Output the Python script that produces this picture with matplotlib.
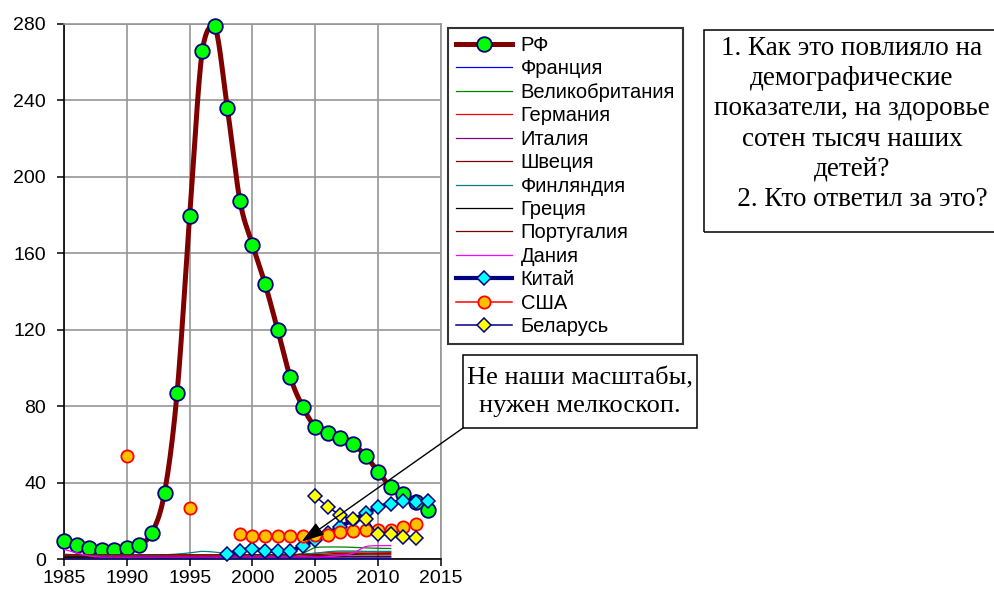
import numpy as np
import matplotlib
matplotlib.use("Agg")
import matplotlib.pyplot as plt
from matplotlib.lines import Line2D
from matplotlib.patches import Rectangle

# ---------------- data ----------------
years_rf = list(range(1985, 2015))
rf = [9.5, 7.5, 5.8, 4.8, 4.8, 6.0, 7.5, 13.8, 34.7, 87.0, 179.5, 266.0, 279.0, 236.0,
      187.5, 164.5, 144.0, 120.0, 95.3, 79.6, 69.2, 66.2, 63.4, 60.2, 54.0, 45.6, 37.8,
      33.8, 29.8, 25.6]

years_eu = list(range(1985, 2012))
france   = [0.6, 0.5, 0.5, 0.5, 0.5, 0.5, 0.5, 0.5, 0.5, 0.5, 0.5, 0.5, 0.5, 0.5, 0.5, 0.5,
            0.5, 0.5, 0.5, 0.5, 0.5, 0.4, 0.4, 0.4, 0.4, 0.4, 0.4]
uk       = [1.2, 1.2, 1.2, 1.2, 1.2, 1.2, 1.2, 1.2, 1.2, 1.2, 1.2, 1.2, 1.2, 1.2, 1.2, 1.2,
            1.2, 1.3, 1.5, 3.0, 6.0, 6.3, 6.3, 6.1, 5.8, 5.6, 5.5]
germany  = [2.0, 2.0, 2.0, 2.0, 2.0, 2.0, 2.0, 2.0, 2.0, 2.0, 2.0, 2.0, 2.0, 2.0, 2.0, 2.0,
            2.0, 2.0, 2.2, 2.6, 3.0, 3.4, 3.6, 3.6, 3.7, 3.6, 3.5]
italy    = [0.8, 0.8, 0.8, 0.8, 0.8, 0.8, 0.8, 0.8, 0.8, 0.8, 0.8, 0.8, 0.8, 0.8, 0.8, 0.8,
            0.8, 0.8, 0.8, 0.8, 0.8, 0.9, 1.0, 1.0, 1.0, 1.0, 1.0]
sweden   = [1.6, 1.6, 1.5, 1.5, 1.5, 1.5, 1.5, 1.5, 1.5, 1.5, 1.5, 1.5, 1.5, 1.5, 1.5, 1.5,
            1.5, 1.5, 1.5, 1.6, 1.8, 2.0, 2.2, 2.4, 2.5, 2.5, 2.5]
finland  = [2.5, 2.3, 2.0, 2.0, 2.0, 2.0, 2.0, 2.0, 2.2, 2.6, 3.2, 4.0, 3.6, 2.8, 2.2, 2.0,
            2.0, 2.0, 2.2, 2.6, 3.0, 3.8, 4.2, 4.2, 4.0, 4.0, 4.0]
greece   = [1.0, 1.0, 1.0, 1.0, 1.0, 1.0, 1.0, 1.0, 1.0, 1.0, 1.0, 1.0, 1.0, 1.0, 1.0, 1.0,
            1.0, 1.0, 1.0, 1.0, 1.2, 1.4, 1.5, 1.5, 1.5, 1.5, 1.5]
portugal = [2.2, 2.2, 2.2, 2.2, 2.2, 2.2, 2.2, 2.2, 2.2, 2.2, 2.2, 2.2, 2.2, 2.2, 2.2, 2.2,
            2.2, 2.2, 2.2, 2.2, 2.3, 2.6, 3.0, 3.0, 3.0, 3.0, 3.0]
denmark  = [5.0, 3.2, 1.6, 1.0, 1.0, 1.0, 1.0, 1.0, 1.0, 1.0, 1.0, 1.0, 1.0, 1.0, 1.0, 1.0,
            1.0, 1.0, 1.0, 1.0, 1.0, 1.2, 1.8, 3.0, 6.5, 7.0, 7.0]

years_china = list(range(1998, 2015))
china = [2.6, 4.2, 5.3, 4.2, 4.2, 4.2, 7.0, 10.0, 13.5, 17.0, 20.5, 24.0, 27.0, 29.0, 30.5,
         30.0, 30.5]

years_usa = list(range(1985, 2014))
usa = [np.nan, np.nan, np.nan, np.nan, np.nan, 53.9, np.nan, np.nan, np.nan, np.nan, 26.6,
       np.nan, np.nan, np.nan, 12.9, 11.8, 11.8, 11.8, 11.8, 11.8, 12.3, 12.8, 14.0, 14.8,
       15.2, 15.2, 15.2, 16.6, 18.5]

years_by = list(range(2005, 2014))
belarus = [32.8, 27.3, 23.1, 20.8, 20.8, 13.0, 13.0, 11.3, 11.0]

eu_names = ["Франция", "Великобритания", "Германия", "Италия", "Швеция", "Финляндия",
            "Греция", "Португалия", "Дания"]
eu_values = [france, uk, germany, italy, sweden, finland, greece, portugal, denmark]
eu_colors = ["#0000FF", "#008000", "#FF0000", "#800080", "#800000", "#008080",
             "#000000", "#800000", "#FF00FF"]

x_ticks = list(range(1985, 2016, 5))
y_ticks = list(range(0, 281, 40))

box1_text = ("1. Как это повлияло на\nдемографические\nпоказатели, на здоровье\n"
             "сотен тысяч наших\nдетей?\n   2. Кто ответил за это?")
box2_text = "Не наши масштабы,\nнужен мелкоскоп."


def smooth(x, y, n=16):
    """Excel-like smoothed line (Bezier through the points, no overshoot)."""
    x = np.asarray(x, float)
    y = np.asarray(y, float)
    if len(x) < 3:
        return x, y
    P = np.column_stack([x, y])
    P = np.vstack([P[0], P, P[-1]])
    out = []
    t = np.linspace(0, 1, n, endpoint=False)
    for i in range(1, len(P) - 2):
        p0, p1, p2, p3 = P[i - 1], P[i], P[i + 1], P[i + 2]
        c1 = p1 + (p2 - p0) / 6.0
        c2 = p2 - (p3 - p1) / 6.0
        lo, hi = min(p1[1], p2[1]), max(p1[1], p2[1])
        c1[1] = np.clip(c1[1], lo, hi)
        c2[1] = np.clip(c2[1], lo, hi)
        seg = ((1 - t) ** 3)[:, None] * p1 + (3 * (1 - t) ** 2 * t)[:, None] * c1 \
            + (3 * (1 - t) * t ** 2)[:, None] * c2 + (t ** 3)[:, None] * p2
        out.append(seg)
    out.append(P[-2][None, :])
    out = np.vstack(out)
    return out[:, 0], out[:, 1]


plt.rcParams['font.family'] = ['Liberation Sans', 'DejaVu Sans']

fig = plt.figure(figsize=(9.94, 5.95), dpi=100)
ax = fig.add_axes([64 / 994, 1 - 559 / 595, (441 - 64) / 994, (559 - 24) / 595])

# RF
sx, sy = smooth(years_rf, rf)
ax.plot(sx, sy, color="#800000", lw=3.6, zorder=3, solid_capstyle='round')
ax.plot(years_rf, rf, ls='none', marker='o', ms=10.5, mfc="#00FF00", mec="#000080",
        mew=1.3, zorder=3.1, clip_on=False)

# European countries
for i, (vals, col) in enumerate(zip(eu_values, eu_colors)):
    sx, sy = smooth(years_eu, vals)
    ax.plot(sx, sy, color=col, lw=0.9, zorder=4 + i * 0.01)

# China
sx, sy = smooth(years_china, china)
ax.plot(sx, sy, color="#000080", lw=3.0, zorder=5)
ax.plot(years_china, china, ls='none', marker='D', ms=7.5, mfc="#00FFFF", mec="#000080",
        mew=1.1, zorder=5.1, clip_on=False)

# USA
usa_arr = np.array(usa, float)
yrs_usa = np.array(years_usa, float)
mask = ~np.isnan(usa_arr)
start = None
runs = []
for i, m in enumerate(mask):
    if m and start is None:
        start = i
    if (not m or i == len(mask) - 1) and start is not None:
        end = i if not m else i + 1
        runs.append((start, end))
        start = None
for s, e in runs:
    if e - s > 1:
        sx, sy = smooth(yrs_usa[s:e], usa_arr[s:e])
        ax.plot(sx, sy, color="#FF0000", lw=1.1, zorder=6)
ax.plot(yrs_usa[mask], usa_arr[mask], ls='none', marker='o', ms=8.8, mfc="#FFC000",
        mec="#FF0000", mew=1.3, zorder=6.1)

# Belarus
sx, sy = smooth(years_by, belarus)
ax.plot(sx, sy, color="#000080", lw=1.1, zorder=7)
ax.plot(years_by, belarus, ls='none', marker='D', ms=7.5, mfc="#FFFF00", mec="#000080",
        mew=1.1, zorder=7.1)

ax.set_xlim(1985, 2015)
ax.set_ylim(0, 280)
ax.set_xticks(x_ticks)
ax.set_yticks(y_ticks)
ax.tick_params(axis='both', labelsize=14, direction='out', length=5, width=1.1, color='black')
ax.tick_params(axis='y', pad=8)
ax.tick_params(axis='x', pad=3)
ax.grid(True, color="#969696", lw=1.2, zorder=0)
ax.set_axisbelow(True)
for sp in ['top', 'right']:
    ax.spines[sp].set_color("#969696")
    ax.spines[sp].set_linewidth(1.2)
for sp in ['left', 'bottom']:
    ax.spines[sp].set_color("black")
    ax.spines[sp].set_linewidth(1.2)

# legend
handles = [Line2D([], [], color="#800000", lw=3.6, marker='o', ms=10.5, mfc="#00FF00",
                  mec="#000080", mew=1.3)]
for col in eu_colors:
    handles.append(Line2D([], [], color=col, lw=0.9))
handles.append(Line2D([], [], color="#000080", lw=3.0, marker='D', ms=7.5, mfc="#00FFFF",
                      mec="#000080", mew=1.1))
handles.append(Line2D([], [], color="#FF0000", lw=1.1, marker='o', ms=8.8, mfc="#FFC000",
                      mec="#FF0000", mew=1.3))
handles.append(Line2D([], [], color="#000080", lw=1.1, marker='D', ms=7.5, mfc="#FFFF00",
                      mec="#000080", mew=1.1))
labels = ["РФ"] + eu_names + ["Китай", "США", "Беларусь"]
leg = fig.legend(handles, labels, loc='upper left',
                 bbox_to_anchor=(448 / 994, 1 - 28 / 595), bbox_transform=fig.transFigure,
                 fontsize=14.5, numpoints=1, handlelength=2.8, handletextpad=0.4,
                 labelspacing=0.22, borderpad=0.4, borderaxespad=0, fancybox=False,
                 frameon=True)
leg.get_frame().set_edgecolor('black')
leg.get_frame().set_linewidth(1.5)

# text box 1
fig.patches.append(Rectangle((704 / 994, 1 - 232 / 595), (1000 - 704) / 994, (232 - 30) / 595,
                             transform=fig.transFigure, fill=False, edgecolor='black',
                             lw=1.1))
fig.text(852 / 994, 1 - 124 / 595, box1_text, ha='center', va='center',
         multialignment='center', fontsize=19.5, family=['Liberation Serif'],
         linespacing=1.28)

# text box 2
fig.patches.append(Rectangle((463 / 994, 1 - 428 / 595), (697 - 463) / 994, (428 - 355) / 595,
                             transform=fig.transFigure, fill=False, edgecolor='black',
                             lw=1.1))
fig.text(580 / 994, 1 - 392 / 595, box2_text, ha='center', va='center',
         multialignment='center', fontsize=19, family=['Liberation Serif'],
         linespacing=1.3)

# arrow
ax.annotate("", xy=(2003.9, 9.0), xytext=(463 / 994, 1 - 428 / 595),
            textcoords='figure fraction', xycoords='data',
            arrowprops=dict(arrowstyle='-|>,head_length=0.7,head_width=0.22', color='black',
                            lw=1.0, shrinkA=0, shrinkB=0, mutation_scale=20), zorder=10)

fig.savefig("out.png", dpi=100)
